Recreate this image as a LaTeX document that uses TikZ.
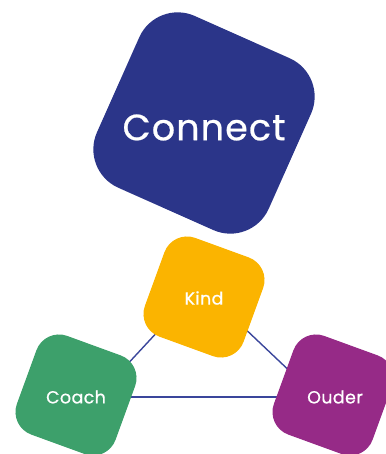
\documentclass[tikz,border=0pt]{standalone}
\usepackage{fontspec}
\setmainfont{Poppins}
\newfontfamily\bigfont{Poppins}[LetterSpace=3,FakeBold=0.6]
\newfontfamily\smallfont{Poppins}[LetterSpace=2,FakeBold=0.6]
\usetikzlibrary{backgrounds,calc}
\definecolor{cnavy}{RGB}{43,53,137}
\definecolor{cyellow}{RGB}{251,180,0}
\definecolor{cgreen}{RGB}{61,160,107}
\definecolor{cpurple}{RGB}{150,42,135}
\definecolor{linkblue}{RGB}{58,70,155}
\begin{document}
\begin{tikzpicture}[x=1pt,y=-1pt,
  box/.style={rectangle, inner sep=0pt},
  bigbox/.style={box, minimum size=188pt, rounded corners=42pt, rotate=-24, fill=cnavy},
  smallbox/.style={box, minimum size=105pt, rounded corners=24pt, rotate=-20},
  bigtext/.style={text=white, inner sep=0pt, font=\bigfont\fontsize{36.5}{40}\selectfont},
  smalltext/.style={text=white, inner sep=0pt, font=\smallfont\fontsize{17.5}{20}\selectfont},
  link/.style={draw=linkblue, line width=1.4pt}]
\useasboundingbox (0,0) rectangle (385,454);
\node[bigbox] (connect) at (204,123) {};
\node[bigtext] (connectlabel) at (204,127.5) {Connect};
\node[smallbox, fill=cyellow] (kind) at (204,297) {};
\node[smalltext] (kindlabel) at (204,298) {Kind};
\node[smallbox, fill=cgreen] (coach) at (76,395) {};
\node[smalltext] (coachlabel) at (76,397) {Coach};
\node[smallbox, fill=cpurple] (ouder) at (333,395) {};
\node[smalltext] (ouderlabel) at (335,397) {Ouder};
\begin{scope}[on background layer]
\coordinate (apex) at ($(kind.center)+(-4,-11)$);
\draw[link] (apex) -- ($(coach.center)+(21,2)$);
\draw[link] (apex) -- ($(ouder.center)+(-16,2)$);
\draw[link] ($(coach.center)+(0,2)$) -- ($(ouder.center)+(0,2)$);
\end{scope}
\end{tikzpicture}
\end{document}
